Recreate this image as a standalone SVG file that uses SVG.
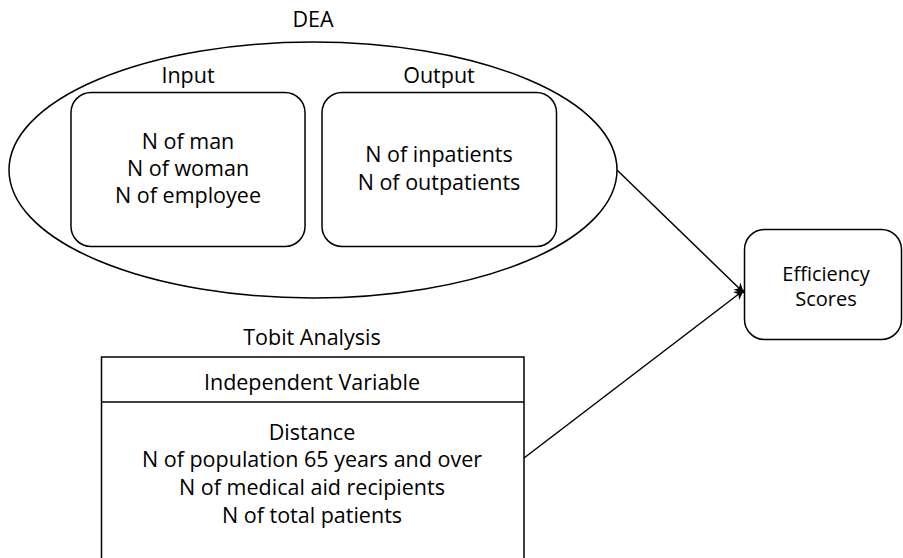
<svg xmlns="http://www.w3.org/2000/svg" width="903" height="558" viewBox="0 0 903 558">
<style>
text{font-family:"Open Sans","Liberation Sans",sans-serif;font-size:21.5px;fill:#000;text-anchor:middle}
.sm{font-size:20px}
.s{fill:none;stroke:#000;stroke-width:1.5}
</style>
<defs>
<marker id="ah" markerWidth="12" markerHeight="12" refX="10" refY="5" orient="auto" markerUnits="userSpaceOnUse">
<path d="M0,0 L10,5 L0,10 L3,5 Z" fill="#000"/>
</marker>
</defs>
<rect width="903" height="558" fill="#fff"/>
<g id="dea">
<ellipse class="s" cx="313" cy="170" rx="304" ry="128"/>
<text x="313" y="27">DEA</text>
</g>
<g id="input">
<text x="188" y="83">Input</text>
<rect class="s" x="71" y="92.5" width="234" height="154" rx="20"/>
<text x="188" y="149">N of man</text>
<text x="188" y="176">N of woman</text>
<text x="188" y="203">N of employee</text>
</g>
<g id="output">
<text x="439" y="83">Output</text>
<rect class="s" x="322" y="92.5" width="234.5" height="154" rx="20"/>
<text x="439" y="162">N of inpatients</text>
<text x="439" y="190">N of outpatients</text>
</g>
<g id="efficiency">
<rect class="s" x="744.5" y="229.5" width="157" height="110" rx="20"/>
<text class="sm" x="826" y="281">Efficiency</text>
<text class="sm" x="826" y="306">Scores</text>
</g>
<g id="tobit">
<text x="312" y="345">Tobit Analysis</text>
<rect class="s" x="101.5" y="357" width="422.5" height="220"/>
<line class="s" x1="101.5" y1="402" x2="524" y2="402"/>
<text x="312" y="390">Independent Variable</text>
<text x="312" y="440">Distance</text>
<text x="312" y="467">N of population 65 years and over</text>
<text x="312" y="495">N of medical aid recipients</text>
<text x="312" y="523">N of total patients</text>
</g>
<g id="connectors">
<line class="s" x1="617" y1="170" x2="744" y2="293" marker-end="url(#ah)"/>
<line class="s" x1="524" y1="458" x2="744" y2="290" marker-end="url(#ah)"/>
</g>
</svg>
